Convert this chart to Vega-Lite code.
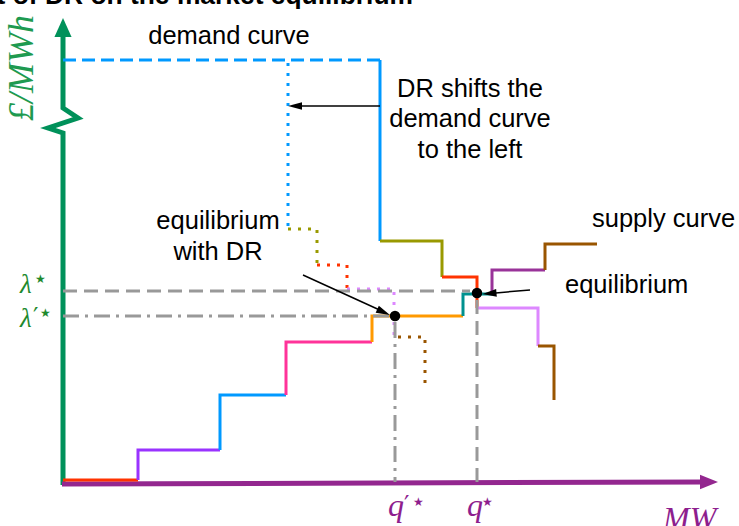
{
  "$schema": "https://vega.github.io/schema/vega-lite/v6.json",
  "width": 739,
  "height": 526,
  "padding": 0,
  "autosize": "none",
  "config": {"view": {"stroke": null}},
  "datasets": {
    "axisY": [
      {"o": 0, "x": 63, "y": 485}, {"o": 1, "x": 63, "y": 133}, {"o": 2, "x": 48, "y": 128},
      {"o": 3, "x": 78, "y": 118}, {"o": 4, "x": 63, "y": 108}, {"o": 5, "x": 63, "y": 32}
    ],
    "axisX": [{"o": 0, "x": 62, "y": 484}, {"o": 1, "x": 705, "y": 482}],
    "headY": [{"x": 63, "y": 27.5}],
    "headX": [{"x": 709, "y": 482}],
    "solid": [
      {"s": "S1", "o": 0, "x": 63, "y": 480}, {"s": "S1", "o": 1, "x": 138, "y": 480},
      {"s": "S2", "o": 0, "x": 138, "y": 480}, {"s": "S2", "o": 1, "x": 138, "y": 450}, {"s": "S2", "o": 2, "x": 220, "y": 450},
      {"s": "S3", "o": 0, "x": 220, "y": 450}, {"s": "S3", "o": 1, "x": 220, "y": 395}, {"s": "S3", "o": 2, "x": 286, "y": 395},
      {"s": "S4", "o": 0, "x": 286, "y": 395}, {"s": "S4", "o": 1, "x": 286, "y": 342}, {"s": "S4", "o": 2, "x": 372, "y": 342},
      {"s": "S5", "o": 0, "x": 372, "y": 342}, {"s": "S5", "o": 1, "x": 372, "y": 316}, {"s": "S5", "o": 2, "x": 463, "y": 316},
      {"s": "S6", "o": 0, "x": 463, "y": 316}, {"s": "S6", "o": 1, "x": 463, "y": 294}, {"s": "S6", "o": 2, "x": 492, "y": 294},
      {"s": "S7", "o": 0, "x": 492, "y": 294}, {"s": "S7", "o": 1, "x": 492, "y": 270}, {"s": "S7", "o": 2, "x": 545, "y": 270},
      {"s": "S8", "o": 0, "x": 545, "y": 270}, {"s": "S8", "o": 1, "x": 545, "y": 244}, {"s": "S8", "o": 2, "x": 597, "y": 244},
      {"s": "D1", "o": 0, "x": 380, "y": 60}, {"s": "D1", "o": 1, "x": 380, "y": 241},
      {"s": "D2", "o": 0, "x": 380, "y": 241}, {"s": "D2", "o": 1, "x": 442, "y": 241}, {"s": "D2", "o": 2, "x": 442, "y": 277},
      {"s": "D3", "o": 0, "x": 442, "y": 277}, {"s": "D3", "o": 1, "x": 477, "y": 277}, {"s": "D3", "o": 2, "x": 477, "y": 308},
      {"s": "D4", "o": 0, "x": 477, "y": 308}, {"s": "D4", "o": 1, "x": 538, "y": 308}, {"s": "D4", "o": 2, "x": 538, "y": 346},
      {"s": "D5", "o": 0, "x": 538, "y": 346}, {"s": "D5", "o": 1, "x": 554, "y": 346}, {"s": "D5", "o": 2, "x": 554, "y": 400}
    ],
    "dashed": [
      {"s": "B0", "o": 0, "x": 63, "y": 60}, {"s": "B0", "o": 1, "x": 380, "y": 60}
    ],
    "dotted": [
      {"s": "R1", "o": 0, "x": 288, "y": 63}, {"s": "R1", "o": 1, "x": 288, "y": 229},
      {"s": "R2", "o": 0, "x": 288, "y": 229}, {"s": "R2", "o": 1, "x": 317, "y": 229}, {"s": "R2", "o": 2, "x": 317, "y": 265},
      {"s": "R3", "o": 0, "x": 317, "y": 265}, {"s": "R3", "o": 1, "x": 347, "y": 265}, {"s": "R3", "o": 2, "x": 347, "y": 289},
      {"s": "R4", "o": 0, "x": 347, "y": 289}, {"s": "R4", "o": 1, "x": 394, "y": 289}, {"s": "R4", "o": 2, "x": 394, "y": 337},
      {"s": "R5", "o": 0, "x": 398, "y": 337}, {"s": "R5", "o": 1, "x": 425, "y": 337}, {"s": "R5", "o": 2, "x": 425, "y": 385}
    ],
    "grayDash": [
      {"s": "G1", "o": 0, "x": 63, "y": 291}, {"s": "G1", "o": 1, "x": 470, "y": 291},
      {"s": "G2", "o": 0, "x": 477, "y": 300}, {"s": "G2", "o": 1, "x": 477, "y": 482}
    ],
    "grayDashDot": [
      {"s": "G3", "o": 0, "x": 63, "y": 316}, {"s": "G3", "o": 1, "x": 392, "y": 316},
      {"s": "G4", "o": 0, "x": 395, "y": 322}, {"s": "G4", "o": 1, "x": 395, "y": 482}
    ],
    "arrows": [
      {"s": "A1", "o": 0, "x": 380, "y": 106}, {"s": "A1", "o": 1, "x": 297, "y": 106},
      {"s": "A2", "o": 0, "x": 303, "y": 275}, {"s": "A2", "o": 1, "x": 384, "y": 312},
      {"s": "A3", "o": 0, "x": 530, "y": 290}, {"s": "A3", "o": 1, "x": 490, "y": 293.4}
    ],
    "head1": [{"x": 295, "y": 106}],
    "head2": [{"x": 383.6, "y": 312.1}],
    "head3": [{"x": 489.5, "y": 293.4}],
    "dots": [{"x": 395, "y": 316}, {"x": 477, "y": 293}],
    "textCenter": [
      {"t": "demand curve", "x": 229, "y": 44},
      {"t": "DR shifts the", "x": 470, "y": 97},
      {"t": "demand curve", "x": 470, "y": 127},
      {"t": "to the left", "x": 470, "y": 158},
      {"t": "equilibrium", "x": 218, "y": 229},
      {"t": "with DR", "x": 218, "y": 260}
    ],
    "textLeft": [
      {"t": "supply curve", "x": 592, "y": 227},
      {"t": "equilibrium", "x": 565, "y": 293}
    ],
    "title": [{"t": "Effect of DR on the market equilibrium", "x": 413, "y": 4}],
    "greekMain": [{"t": "λ", "x": 20, "y": 293}, {"t": "λ", "x": 20, "y": 327}],
    "greekStar": [{"t": "★", "x": 35, "y": 283}, {"t": "★", "x": 40, "y": 317}],
    "greekPrime": [{"t": "′", "x": 33, "y": 325}],
    "yLabel": [{"t": "£/MWh", "x": 33, "y": 68}],
    "qMain": [{"t": "q", "x": 388, "y": 516}, {"t": "q", "x": 467, "y": 516}, {"t": "MW", "x": 663, "y": 529}],
    "qStar": [{"t": "★", "x": 413, "y": 506}, {"t": "★", "x": 482, "y": 506}],
    "qPrime": [{"t": "′", "x": 404, "y": 513}]
  },
  "encoding": {
    "x": {"field": "x", "type": "quantitative", "scale": {"domain": [0, 739], "nice": false, "zero": false}, "axis": null},
    "y": {"field": "y", "type": "quantitative", "scale": {"domain": [0, 526], "reverse": true, "nice": false, "zero": false}, "axis": null}
  },
  "layer": [
    {
      "data": {"name": "axisY"},
      "mark": {"type": "line", "color": "#00915a", "strokeWidth": 5, "strokeJoin": "miter"},
      "encoding": {"order": {"field": "o", "type": "quantitative"}}
    },
    {
      "data": {"name": "axisX"},
      "mark": {"type": "line", "color": "#93278f", "strokeWidth": 5},
      "encoding": {"order": {"field": "o", "type": "quantitative"}}
    },
    {
      "data": {"name": "headY"},
      "mark": {"type": "point", "shape": "M0,-1L0.9,1L-0.9,1Z", "size": 361, "filled": true, "color": "#00915a", "opacity": 1},
      "encoding": {}
    },
    {
      "data": {"name": "headX"},
      "mark": {"type": "point", "shape": "M1,0L-1,-0.8L-1,0.8Z", "size": 324, "filled": true, "color": "#93278f", "opacity": 1},
      "encoding": {}
    },
    {
      "data": {"name": "solid"},
      "mark": {"type": "line", "strokeWidth": 3, "strokeJoin": "miter"},
      "encoding": {
        "color": {"field": "s", "type": "nominal", "legend": null,
          "scale": {"domain": ["S1","S2","S3","S4","S5","S6","S7","S8","D1","D2","D3","D4","D5","B0","R1","R2","R3","R4","R5"],
                    "range": ["#ff3300","#9933ff","#0099ff","#ff3399","#ff9900","#00918f","#993399","#995500","#0099ff","#999900","#ff3300","#dd88ff","#995500","#0099ff","#0099ff","#999900","#ff3300","#dd88ff","#995500"]}},
        "order": {"field": "o", "type": "quantitative"}
      }
    },
    {
      "data": {"name": "dashed"},
      "mark": {"type": "line", "strokeWidth": 3, "strokeDash": [13, 6], "strokeCap": "butt"},
      "encoding": {
        "color": {"field": "s", "type": "nominal", "legend": null},
        "order": {"field": "o", "type": "quantitative"}
      }
    },
    {
      "data": {"name": "dotted"},
      "mark": {"type": "line", "strokeWidth": 3, "strokeDash": [3, 7], "strokeCap": "butt"},
      "encoding": {
        "color": {"field": "s", "type": "nominal", "legend": null},
        "order": {"field": "o", "type": "quantitative"}
      }
    },
    {
      "data": {"name": "grayDash"},
      "mark": {"type": "line", "strokeWidth": 3, "color": "#999999", "strokeDash": [14, 7], "strokeCap": "butt"},
      "encoding": {
        "detail": {"field": "s", "type": "nominal"},
        "order": {"field": "o", "type": "quantitative"}
      }
    },
    {
      "data": {"name": "grayDashDot"},
      "mark": {"type": "line", "strokeWidth": 3, "color": "#999999", "strokeDash": [16, 6, 3, 6], "strokeCap": "butt"},
      "encoding": {
        "detail": {"field": "s", "type": "nominal"},
        "order": {"field": "o", "type": "quantitative"}
      }
    },
    {
      "data": {"name": "arrows"},
      "mark": {"type": "line", "strokeWidth": 1.5, "color": "#000000"},
      "encoding": {
        "detail": {"field": "s", "type": "nominal"},
        "order": {"field": "o", "type": "quantitative"}
      }
    },
    {
      "data": {"name": "head1"},
      "mark": {"type": "point", "shape": "M1,0L-1,-0.55L-1,0.55Z", "size": 196, "angle": 180, "filled": true, "color": "#000000", "opacity": 1},
      "encoding": {}
    },
    {
      "data": {"name": "head2"},
      "mark": {"type": "point", "shape": "M1,0L-1,-0.55L-1,0.55Z", "size": 196, "angle": 24.7, "filled": true, "color": "#000000", "opacity": 1},
      "encoding": {}
    },
    {
      "data": {"name": "head3"},
      "mark": {"type": "point", "shape": "M1,0L-1,-0.55L-1,0.55Z", "size": 196, "angle": 175.2, "filled": true, "color": "#000000", "opacity": 1},
      "encoding": {}
    },
    {
      "data": {"name": "dots"},
      "mark": {"type": "circle", "size": 110, "color": "#000000", "opacity": 1},
      "encoding": {}
    },
    {
      "data": {"name": "textCenter"},
      "mark": {"type": "text", "font": "Liberation Sans", "fontSize": 25.5, "align": "center", "baseline": "alphabetic", "color": "#000000"},
      "encoding": {"text": {"field": "t"}}
    },
    {
      "data": {"name": "textLeft"},
      "mark": {"type": "text", "font": "Liberation Sans", "fontSize": 25.5, "align": "left", "baseline": "alphabetic", "color": "#000000"},
      "encoding": {"text": {"field": "t"}}
    },
    {
      "data": {"name": "title"},
      "mark": {"type": "text", "font": "Liberation Sans", "fontSize": 26.4, "fontWeight": "bold", "align": "right", "baseline": "alphabetic", "color": "#000000"},
      "encoding": {"text": {"field": "t"}}
    },
    {
      "data": {"name": "greekMain"},
      "mark": {"type": "text", "font": "Liberation Serif", "fontStyle": "italic", "fontSize": 27, "align": "left", "baseline": "alphabetic", "color": "#1e8a2e"},
      "encoding": {"text": {"field": "t"}}
    },
    {
      "data": {"name": "greekStar"},
      "mark": {"type": "text", "font": "DejaVu Sans", "fontSize": 12, "align": "left", "baseline": "alphabetic", "color": "#1e8a2e"},
      "encoding": {"text": {"field": "t"}}
    },
    {
      "data": {"name": "greekPrime"},
      "mark": {"type": "text", "font": "DejaVu Sans", "fontSize": 24, "align": "left", "baseline": "alphabetic", "color": "#1e8a2e"},
      "encoding": {"text": {"field": "t"}}
    },
    {
      "data": {"name": "yLabel"},
      "mark": {"type": "text", "font": "Liberation Serif", "fontStyle": "italic", "fontSize": 36, "angle": 270, "align": "center", "baseline": "alphabetic", "color": "#1e9a50"},
      "encoding": {"text": {"field": "t"}}
    },
    {
      "data": {"name": "qMain"},
      "mark": {"type": "text", "font": "Liberation Serif", "fontStyle": "italic", "fontSize": 32, "align": "left", "baseline": "alphabetic", "color": "#8e1e8e"},
      "encoding": {"text": {"field": "t"}}
    },
    {
      "data": {"name": "qStar"},
      "mark": {"type": "text", "font": "DejaVu Sans", "fontSize": 12, "align": "left", "baseline": "alphabetic", "color": "#8e1e8e"},
      "encoding": {"text": {"field": "t"}}
    },
    {
      "data": {"name": "qPrime"},
      "mark": {"type": "text", "font": "DejaVu Sans", "fontSize": 24, "align": "left", "baseline": "alphabetic", "color": "#8e1e8e"},
      "encoding": {"text": {"field": "t"}}
    }
  ]
}
